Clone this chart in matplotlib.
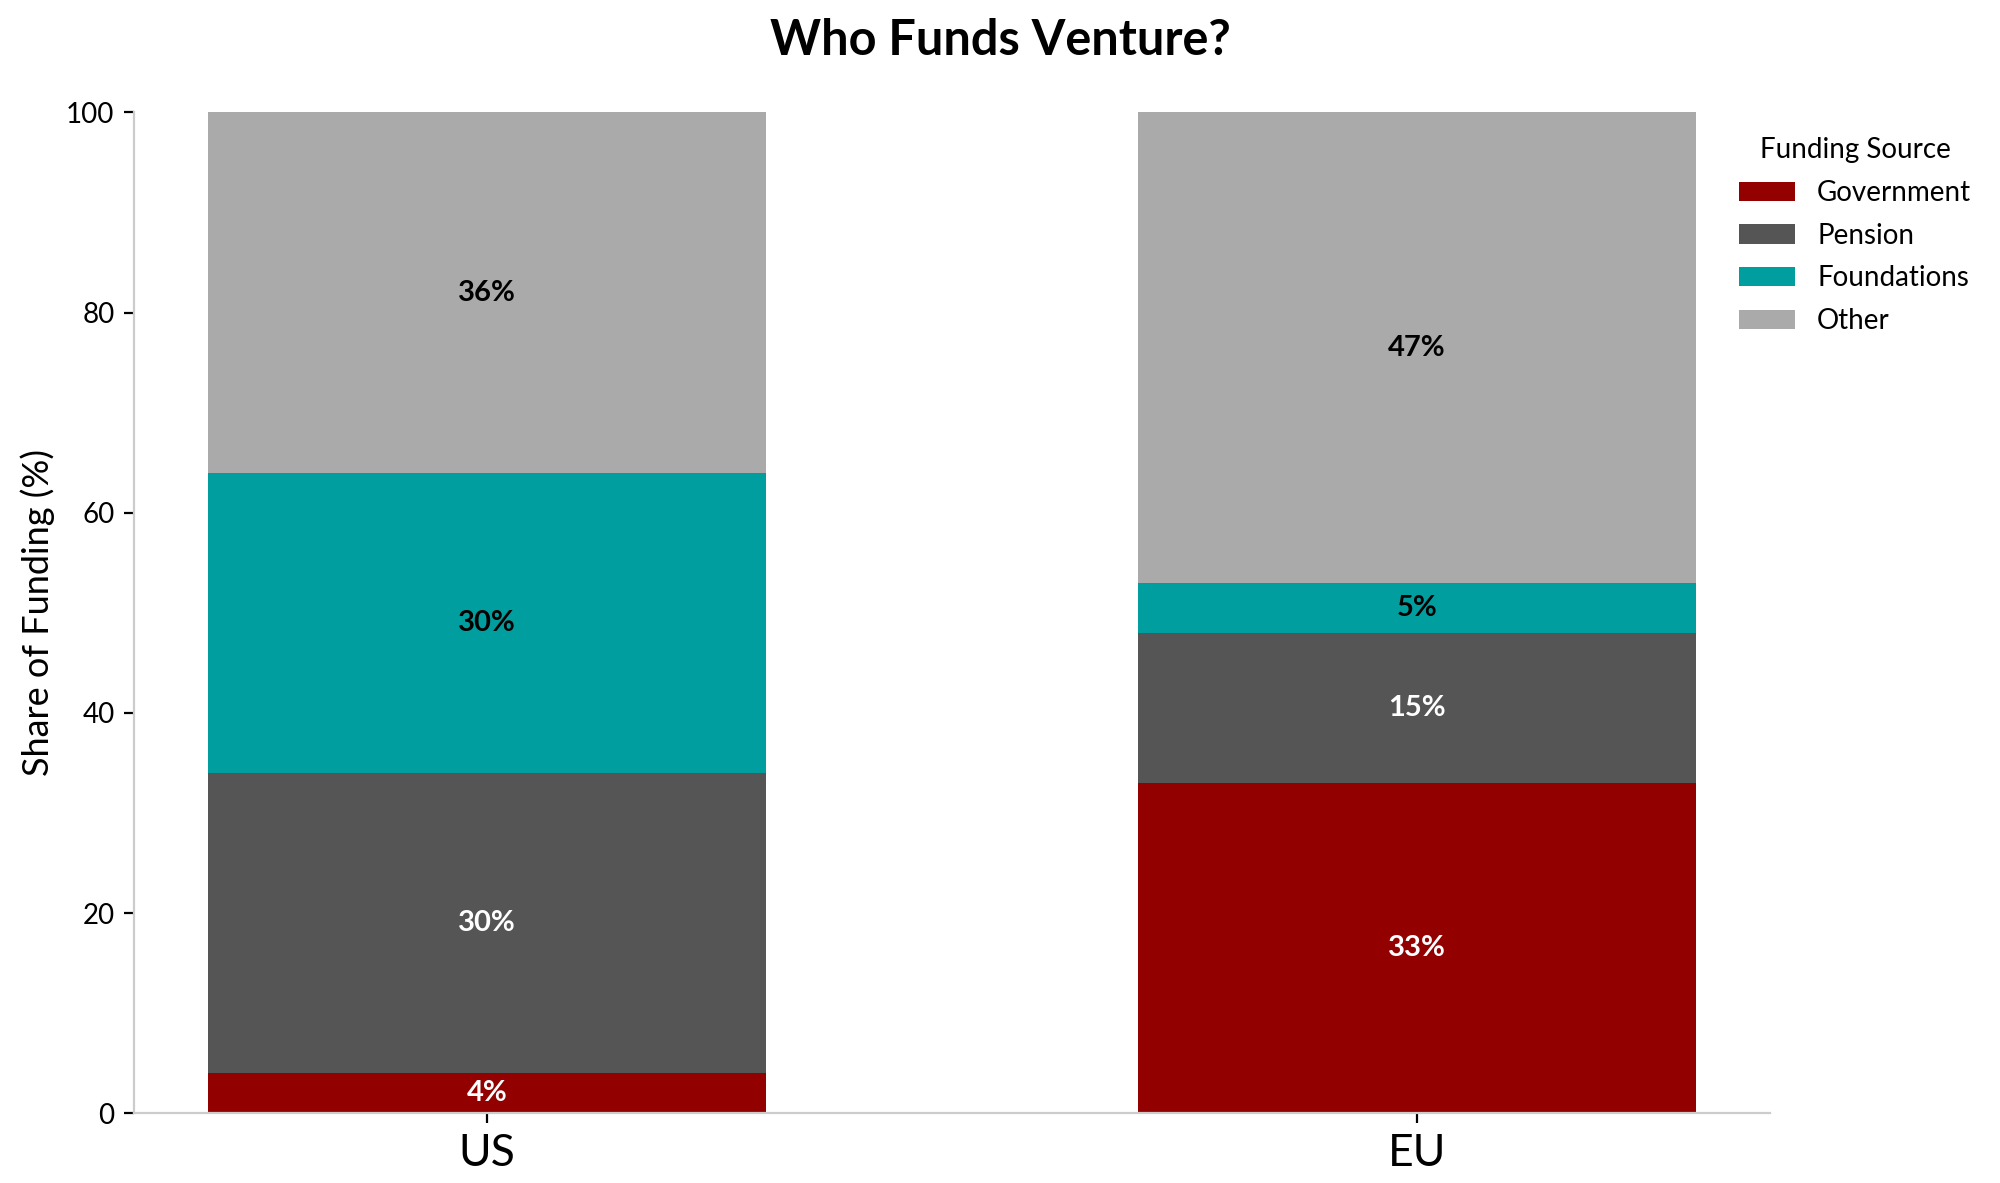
import matplotlib
matplotlib.use("Agg")
import matplotlib.pyplot as plt
import numpy as np

plt.rcParams['font.family'] = ['Lato', 'DejaVu Sans']

regions = ["US", "EU"]
sources = ["Government", "Pension", "Foundations", "Other"]
government = [4, 33]
pension = [30, 15]
foundations = [30, 5]
other = [36, 47]
colors = ["#930000", "#555555", "#009E9E", "#AAAAAA"]
label_colors = ["white", "white", "black", "black"]

series = [government, pension, foundations, other]

fig = plt.figure(figsize=(10, 5.915), dpi=200)
ax = fig.add_axes([0.067, 0.059, 0.818, 0.846])

x = np.arange(len(regions))
bottom = np.zeros(len(regions))
for vals, col, lc, name in zip(series, colors, label_colors, sources):
    vals = np.array(vals, dtype=float)
    ax.bar(x, vals, 0.6, bottom=bottom, color=col, label=name)
    for xi, v, b in zip(x, vals, bottom):
        ax.text(xi, b + v / 2, f"{int(v)}%", ha="center", va="center",
                color=lc, fontsize=10.5, fontweight="bold")
    bottom += vals

ax.set_ylim(0, 100)
ax.set_xticks(x)
ax.set_xticklabels(regions, fontsize=16)
ax.set_yticks([0, 20, 40, 60, 80, 100])
ax.tick_params(axis="y", labelsize=10)
ax.set_ylabel("Share of Funding (%)", fontsize=13)
for s in ["top", "right"]:
    ax.spines[s].set_visible(False)
for s in ["left", "bottom"]:
    ax.spines[s].set_color("#cccccc")

fig.suptitle("Who Funds Venture?", fontsize=17.5, fontweight="bold", y=0.985)

leg = ax.legend(title="Funding Source", loc="upper left", bbox_to_anchor=(0.966, 1.0),
                frameon=False, fontsize=10, title_fontsize=10, handlelength=2.0,
                labelspacing=0.6)

fig.savefig("out.png", dpi=200)
